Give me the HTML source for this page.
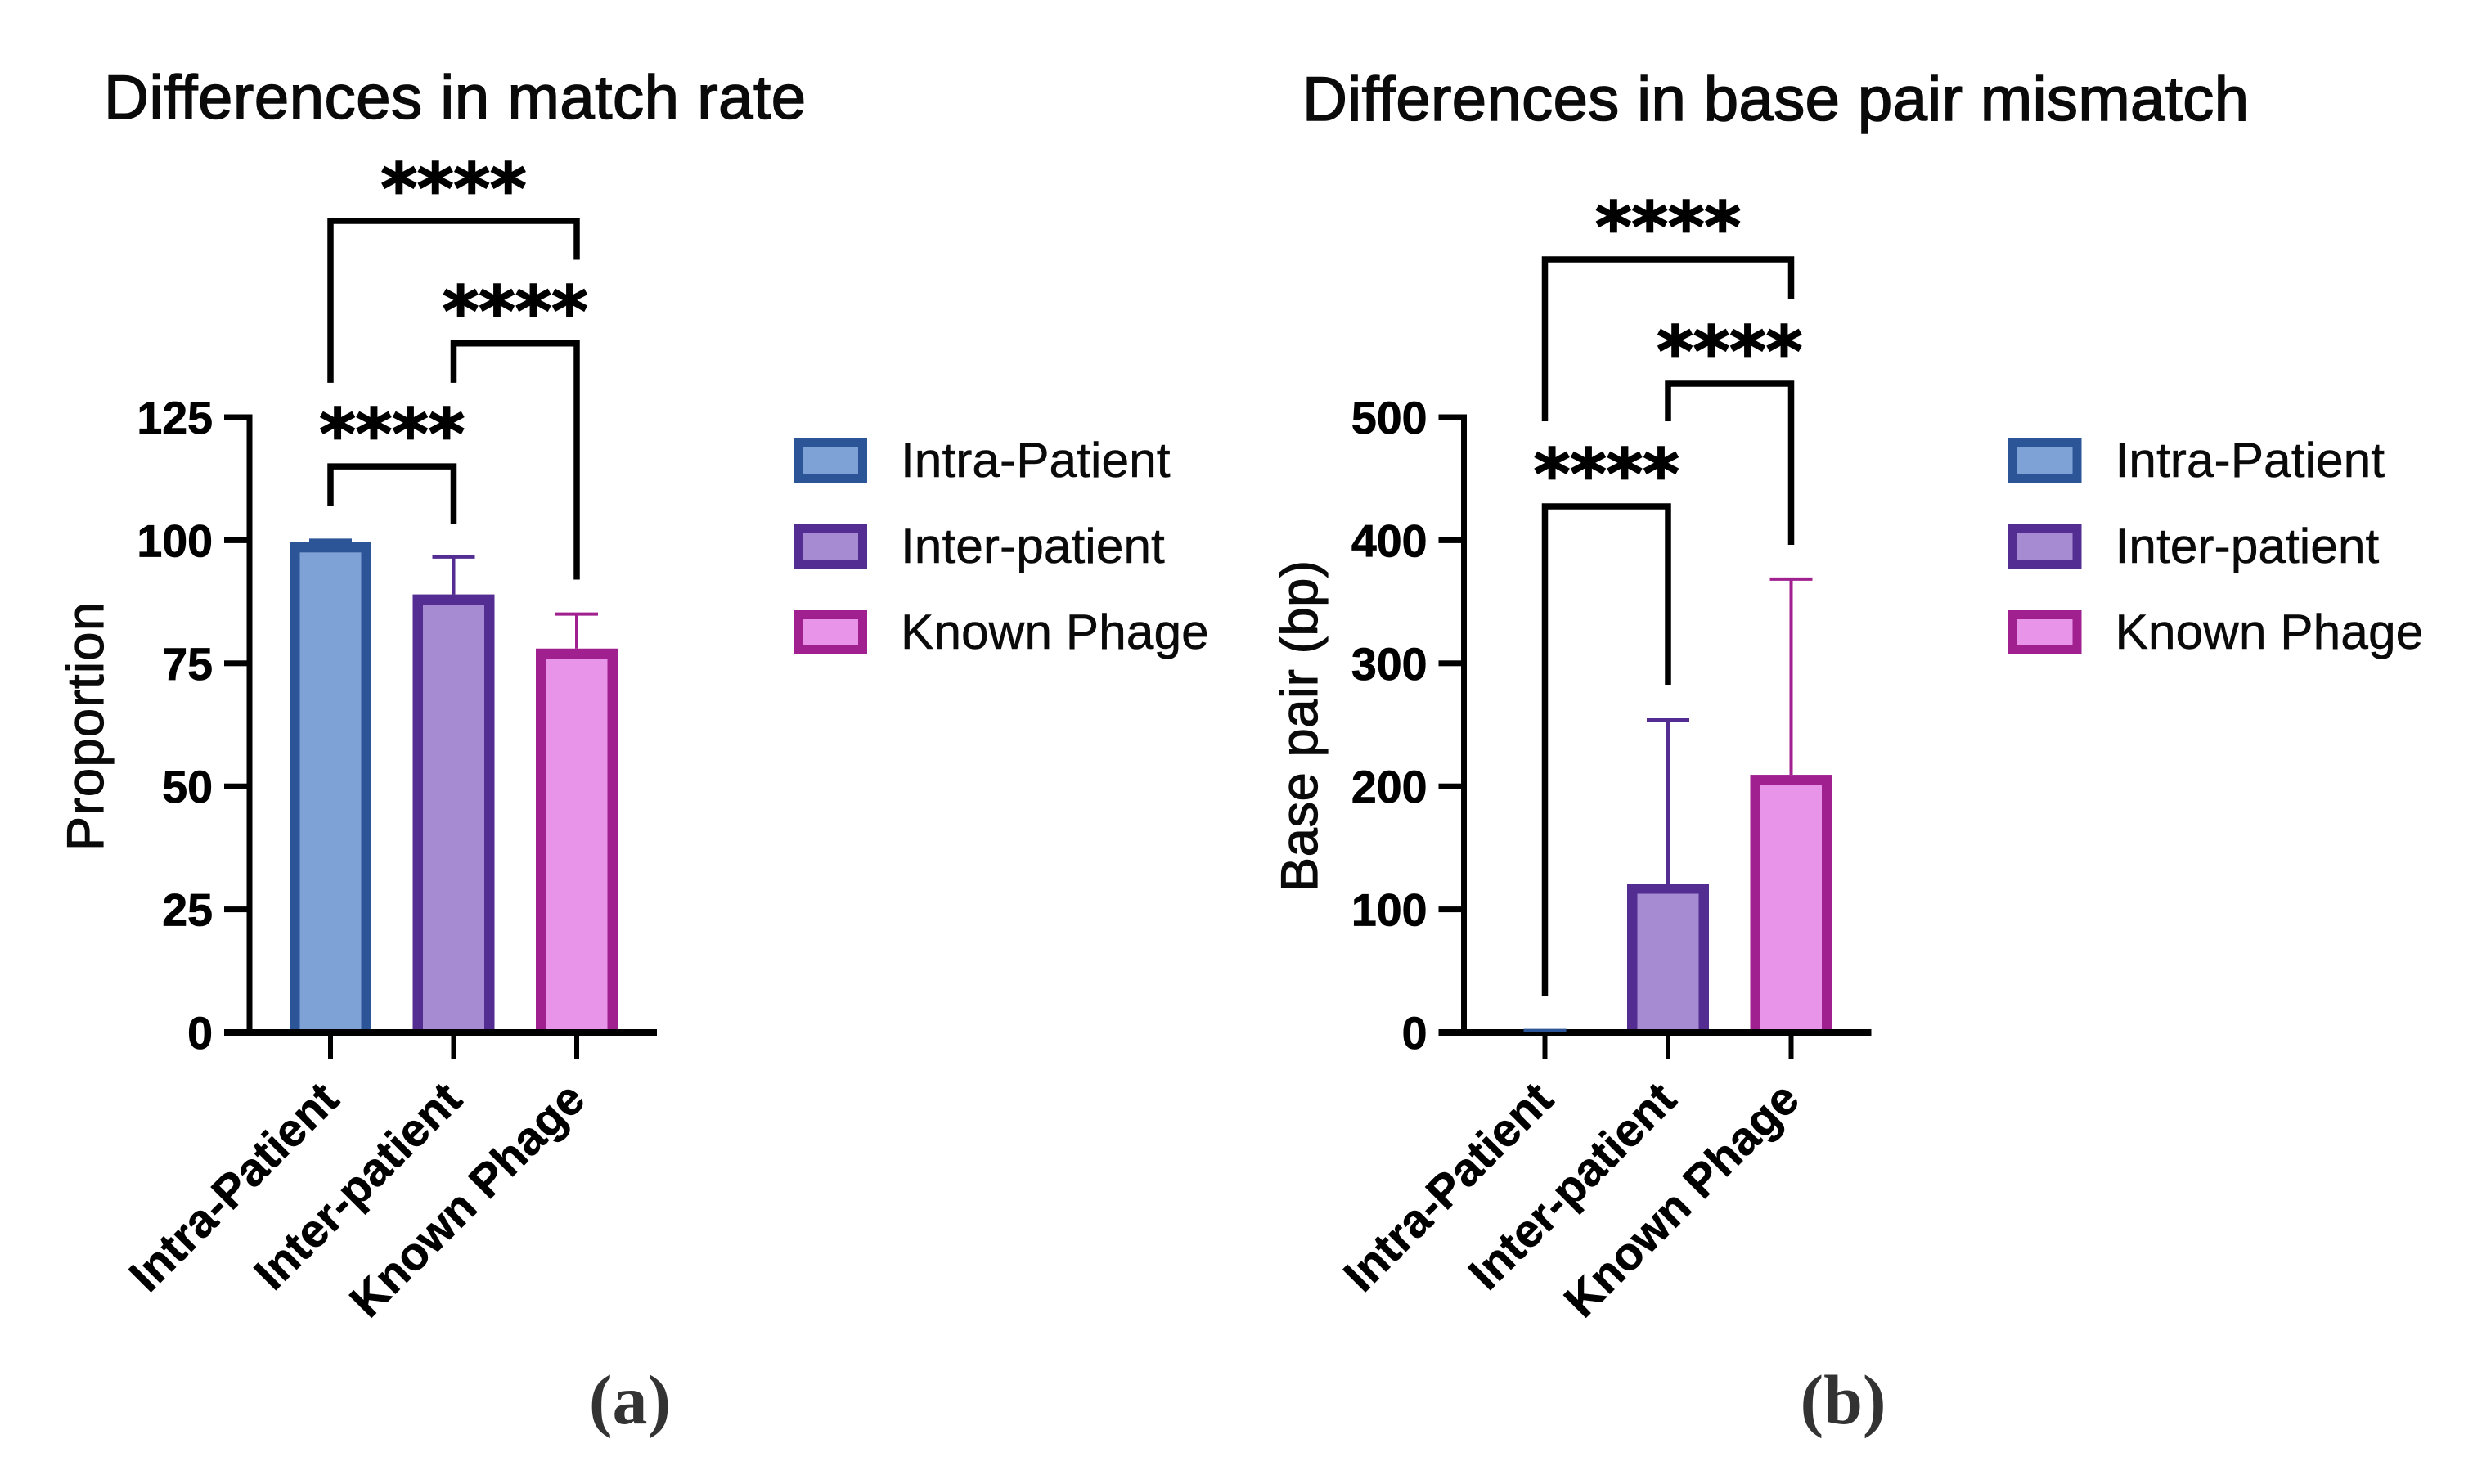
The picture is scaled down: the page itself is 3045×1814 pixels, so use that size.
<!DOCTYPE html>
<html lang="en">
<head>
<meta charset="utf-8">
<title>Differences in match rate and base pair mismatch</title>
<style>
html,body{margin:0;padding:0;background:#fff;width:3045px;height:1814px;overflow:hidden}
svg{display:block;font-family:"Liberation Sans",Arial,sans-serif}
</style>
</head>
<body>
<svg id="figure" xmlns="http://www.w3.org/2000/svg" width="3045" height="1814" viewBox="0 0 3045 1814">
  <rect x="0" y="0" width="3045" height="1814" fill="#fff"/>
  <text x="127" y="145" font-size="76" textLength="858" lengthAdjust="spacing" fill="#0a0a0a" stroke="#0a0a0a" stroke-width="1.6">Differences in match rate</text>
  <text x="1592" y="147" font-size="76" textLength="1157" lengthAdjust="spacing" fill="#0a0a0a" stroke="#0a0a0a" stroke-width="1.6">Differences in base pair mismatch</text>
  <text transform="translate(126 1040) rotate(-90)" font-size="63" textLength="304" lengthAdjust="spacing" fill="#0a0a0a" stroke="#0a0a0a" stroke-width="1.2">Proportion</text>
  <text transform="translate(1610 1090) rotate(-90)" font-size="63" textLength="405" lengthAdjust="spacing" fill="#0a0a0a" stroke="#0a0a0a" stroke-width="1.2">Base pair (bp)</text>
  <text x="770" y="1740" font-size="86" font-weight="700" text-anchor="middle" fill="#333" style="font-family:'Liberation Serif',serif">(a)</text>
  <text x="2253" y="1740" font-size="86" font-weight="700" text-anchor="middle" fill="#333" style="font-family:'Liberation Serif',serif">(b)</text>
</svg>
<script>
const categories = ['Intra-Patient', 'Inter-patient', 'Known Phage'];
const matchRateValues = [99.6, 89, 78];
const matchRateErrors = [0.4, 7.6, 7];
const matchRateTicks = [0, 25, 50, 75, 100, 125];
const matchRateBracketFrom = [0, 1, 0];
const matchRateBracketTo = [2, 2, 1];
const matchRateBracketTop = [164.9, 140, 115];
const matchRateBracketFromEnd = [132, 132, 106.9];
const matchRateBracketToEnd = [157, 92, 103.4];
const matchRateBracketLabels = ['****', '****', '****'];

const mismatchValues = [0.8, 121, 209.4];
const mismatchErrors = [0.8, 133, 159];
const mismatchTicks = [0, 100, 200, 300, 400, 500];
const mismatchBracketFrom = [0, 1, 0];
const mismatchBracketTo = [2, 2, 1];
const mismatchBracketTop = [628.3, 527.3, 427.5];
const mismatchBracketFromEnd = [496.7, 496.7, 29.3];
const mismatchBracketToEnd = [596.4, 396.3, 282.6];
const mismatchBracketLabels = ['****', '****', '****'];

const fillColors = ['#7fa2d6', '#a68bd3', '#e895e9'];
const edgeColors = ['#2b5597', '#532d92', '#a0208f'];

const svg = document.getElementById('figure');
const NS = 'http://www.w3.org/2000/svg';

function mk(tag, attrs, parent, text) {
  const el = document.createElementNS(NS, tag);
  for (const k in attrs) el.setAttribute(k, attrs[k]);
  if (text !== undefined) el.textContent = text;
  parent.appendChild(el);
  return el;
}

function drawChart(id, dx, maxTick, values, errors, ticks, bFrom, bTo, bTop, bFromEnd, bToEnd, bLabels) {
  const g = mk('g', {}, svg);
  
  

  const y0 = 1262, yTop = 510;
  const yScale = v => y0 - (v / maxTick) * (y0 - yTop);
  const xScale = i => dx + 404 + i * 150.5;
  const barHalf = 50, border = 12.5, capHalf = 26;

  values.forEach((v, i) => {
    const x = xScale(i), top = yScale(v);
    const bar = mk('rect', {x: x - barHalf, y: top, width: barHalf * 2, height: y0 - top, fill: edgeColors[i]}, g);
    
    
    const innerTop = Math.min(top + border, y0);
    const inner = mk('rect', {x: x - barHalf + border, y: innerTop, width: barHalf * 2 - border * 2, height: y0 - innerTop, fill: fillColors[i]}, g);
    
    
  });

  const yLine = mk('rect', {x: dx + 301.5, y: yScale(ticks[ticks.length - 1]) - 3.5, width: 7, height: y0 - yTop + 7, fill: '#000'}, g);
  
  
  const xLine = mk('rect', {x: dx + 274, y: y0 - 4, width: 529, height: 8, fill: '#000'}, g);
  
  

  ticks.forEach(t => {
    const y = yScale(t);
    const tick = mk('rect', {x: dx + 274, y: y - 3.5, width: 30, height: 7, fill: '#000'}, g);
    
    
    const label = mk('text', {x: dx + 260, y: y + 20, 'text-anchor': 'end', 'font-size': 55.5, 'font-weight': 700, fill: '#000', stroke: '#000', 'stroke-width': 0.8}, g, String(t));
    
    
  });

  categories.forEach((c, i) => {
    const x = xScale(i);
    const tick = mk('rect', {x: x - 3, y: y0 + 4, width: 6, height: 28, fill: '#000'}, g);
    
    
    const label = mk('text', {transform: 'translate(' + (x + 13) + ' 1347) rotate(-45)', 'text-anchor': 'end', 'font-size': 57, 'font-weight': 700, fill: '#000', stroke: '#000', 'stroke-width': 0.6}, g, c);
    
    
  });

  values.forEach((v, i) => {
    const x = xScale(i), base = yScale(v), tip = yScale(v + errors[i]);
    const stem = mk('line', {x1: x, x2: x, y1: base, y2: tip, stroke: edgeColors[i], 'stroke-width': 4}, g);
    
    
    const cap = mk('line', {x1: x - capHalf, x2: x + capHalf, y1: tip, y2: tip, stroke: edgeColors[i], 'stroke-width': 4}, g);
    
    
  });

  bFrom.forEach((from, i) => {
    const xa = xScale(from), xb = xScale(bTo[i]), yt = yScale(bTop[i]);
    const d = 'M' + xa + ' ' + yScale(bFromEnd[i]) + 'V' + yt + 'H' + xb + 'V' + yScale(bToEnd[i]);
    const bracket = mk('path', {d: d, fill: 'none', stroke: '#000', 'stroke-width': 7.5}, g);
    
    
    const stars = mk('text', {x: (xa + xb) / 2, y: yt - 10, 'text-anchor': 'middle', 'font-size': 85, 'font-weight': 700, fill: '#000', stroke: '#000', 'stroke-width': 1.8, style: 'font-family:"DejaVu Sans",sans-serif'}, g, bLabels[i]);
    
    
  });

  categories.forEach((c, i) => {
    const top = 536 + i * 105;
    const swatch = mk('rect', {x: dx + 975.5, y: top + 5.5, width: 79, height: 43, fill: fillColors[i], stroke: edgeColors[i], 'stroke-width': 11}, g);
    
    
    const label = mk('text', {x: dx + 1101, y: top + 47, 'font-size': 60.5, fill: '#0a0a0a', stroke: '#0a0a0a', 'stroke-width': 0.5}, g, c);
    
    
  });
}

drawChart('chart-a-match-rate', 0, 125, matchRateValues, matchRateErrors, matchRateTicks, matchRateBracketFrom, matchRateBracketTo, matchRateBracketTop, matchRateBracketFromEnd, matchRateBracketToEnd, matchRateBracketLabels);
drawChart('chart-b-base-pair-mismatch', 1484.5, 500, mismatchValues, mismatchErrors, mismatchTicks, mismatchBracketFrom, mismatchBracketTo, mismatchBracketTop, mismatchBracketFromEnd, mismatchBracketToEnd, mismatchBracketLabels);
</script>
</body>
</html>
